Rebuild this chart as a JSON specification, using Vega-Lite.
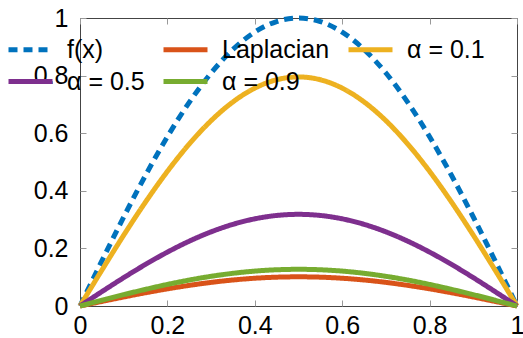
{
  "$schema": "https://vega.github.io/schema/vega-lite/v6.json",
  "width": 437,
  "height": 288,
  "autosize": "none",
  "padding": {"left": 80, "top": 18, "right": 6, "bottom": 32},
  "config": {
    "font": "Liberation Sans",
    "view": {"stroke": "#444444", "strokeWidth": 1},
    "axis": {"grid": false, "domain": false, "tickColor": "#999999", "tickSize": -6, "tickWidth": 1, "labelFontSize": 25, "labelColor": "#000000", "title": null, "labelFlush": false, "labelOverlap": false}
  },
  "data": {
    "values": [
      {"x": 0, "f": 0, "lap": 0, "a1": 0, "a5": 0, "a9": 0},
      {"x": 0.05, "f": 0.1564, "lap": 0.0158, "a1": 0.1244, "a5": 0.0498, "a9": 0.0199},
      {"x": 0.1, "f": 0.309, "lap": 0.0313, "a1": 0.2458, "a5": 0.0984, "a9": 0.0394},
      {"x": 0.15, "f": 0.454, "lap": 0.046, "a1": 0.3611, "a5": 0.1445, "a9": 0.0578},
      {"x": 0.2, "f": 0.5878, "lap": 0.0596, "a1": 0.4675, "a5": 0.1871, "a9": 0.0749},
      {"x": 0.25, "f": 0.7071, "lap": 0.0716, "a1": 0.5624, "a5": 0.2251, "a9": 0.0901},
      {"x": 0.3, "f": 0.809, "lap": 0.082, "a1": 0.6435, "a5": 0.2575, "a9": 0.1031},
      {"x": 0.35, "f": 0.891, "lap": 0.0903, "a1": 0.7087, "a5": 0.2836, "a9": 0.1135},
      {"x": 0.4, "f": 0.9511, "lap": 0.0964, "a1": 0.7565, "a5": 0.3027, "a9": 0.1212},
      {"x": 0.45, "f": 0.9877, "lap": 0.1001, "a1": 0.7856, "a5": 0.3144, "a9": 0.1258},
      {"x": 0.5, "f": 1.0, "lap": 0.1013, "a1": 0.7954, "a5": 0.3183, "a9": 0.1274},
      {"x": 0.55, "f": 0.9877, "lap": 0.1001, "a1": 0.7856, "a5": 0.3144, "a9": 0.1258},
      {"x": 0.6, "f": 0.9511, "lap": 0.0964, "a1": 0.7565, "a5": 0.3027, "a9": 0.1212},
      {"x": 0.65, "f": 0.891, "lap": 0.0903, "a1": 0.7087, "a5": 0.2836, "a9": 0.1135},
      {"x": 0.7, "f": 0.809, "lap": 0.082, "a1": 0.6435, "a5": 0.2575, "a9": 0.1031},
      {"x": 0.75, "f": 0.7071, "lap": 0.0716, "a1": 0.5624, "a5": 0.2251, "a9": 0.0901},
      {"x": 0.8, "f": 0.5878, "lap": 0.0596, "a1": 0.4675, "a5": 0.1871, "a9": 0.0749},
      {"x": 0.85, "f": 0.454, "lap": 0.046, "a1": 0.3611, "a5": 0.1445, "a9": 0.0578},
      {"x": 0.9, "f": 0.309, "lap": 0.0313, "a1": 0.2458, "a5": 0.0984, "a9": 0.0394},
      {"x": 0.95, "f": 0.1564, "lap": 0.0158, "a1": 0.1244, "a5": 0.0498, "a9": 0.0199},
      {"x": 1, "f": 0, "lap": 0, "a1": 0, "a5": 0, "a9": 0}
    ]
  },
  "transform": [{"fold": ["f", "lap", "a1", "a5", "a9"], "as": ["series", "y"]}],
  "layer": [
    {
      "mark": {"type": "line", "strokeWidth": 5, "interpolate": "monotone", "clip": false},
      "encoding": {
        "x": {"field": "x", "type": "quantitative", "scale": {"domain": [0, 1], "nice": false, "zero": false},
              "axis": {"orient": "bottom", "values": [0, 0.2, 0.4, 0.6, 0.8, 1], "format": "~g", "labelPadding": 13}},
        "y": {"field": "y", "type": "quantitative", "scale": {"domain": [0, 1], "nice": false},
              "axis": {"orient": "left", "values": [0, 0.2, 0.4, 0.6, 0.8, 1], "format": "~g", "labelPadding": 18}},
        "color": {
          "field": "series", "type": "nominal",
          "scale": {"domain": ["f", "lap", "a1", "a5", "a9"], "range": ["#0072BD", "#D95319", "#EDB120", "#7E2F8E", "#77AC30"]},
          "legend": {
            "orient": "none", "direction": "horizontal", "legendX": -63, "legendY": 18, "columns": 3, "title": null,
            "symbolType": "M-2,0H2", "symbolSize": 484, "symbolStrokeWidth": 5, "symbolFillColor": "transparent",
            "labelFontSize": 25, "labelOffset": 23, "rowPadding": 5, "columnPadding": 8,
            "labelExpr": "{'f': 'f(x)', 'lap': 'Laplacian', 'a1': 'α = 0.1', 'a5': 'α = 0.5', 'a9': 'α = 0.9'}[datum.label]"
          }
        },
        "strokeDash": {
          "field": "series", "type": "nominal",
          "scale": {"domain": ["f", "lap", "a1", "a5", "a9"], "range": [[9, 6], [1, 0], [1, 0], [1, 0], [1, 0]]},
          "legend": {
            "orient": "none", "direction": "horizontal", "legendX": -63, "legendY": 18, "columns": 3, "title": null,
            "symbolType": "M-2,0H2", "symbolSize": 484, "symbolStrokeWidth": 5, "symbolFillColor": "transparent",
            "labelFontSize": 25, "labelOffset": 23, "rowPadding": 5, "columnPadding": 8,
            "labelExpr": "{'f': 'f(x)', 'lap': 'Laplacian', 'a1': 'α = 0.1', 'a5': 'α = 0.5', 'a9': 'α = 0.9'}[datum.label]"
          }
        }
      }
    },
    {
      "mark": {"type": "line", "strokeOpacity": 0},
      "encoding": {
        "x": {"field": "x", "type": "quantitative", "axis": {"orient": "top", "values": [0, 0.2, 0.4, 0.6, 0.8, 1], "labels": false}},
        "y": {"field": "y", "type": "quantitative", "axis": {"orient": "right", "values": [0, 0.2, 0.4, 0.6, 0.8, 1], "labels": false}},
        "detail": {"field": "series"}
      }
    }
  ],
  "resolve": {"axis": {"x": "independent", "y": "independent"}}
}
